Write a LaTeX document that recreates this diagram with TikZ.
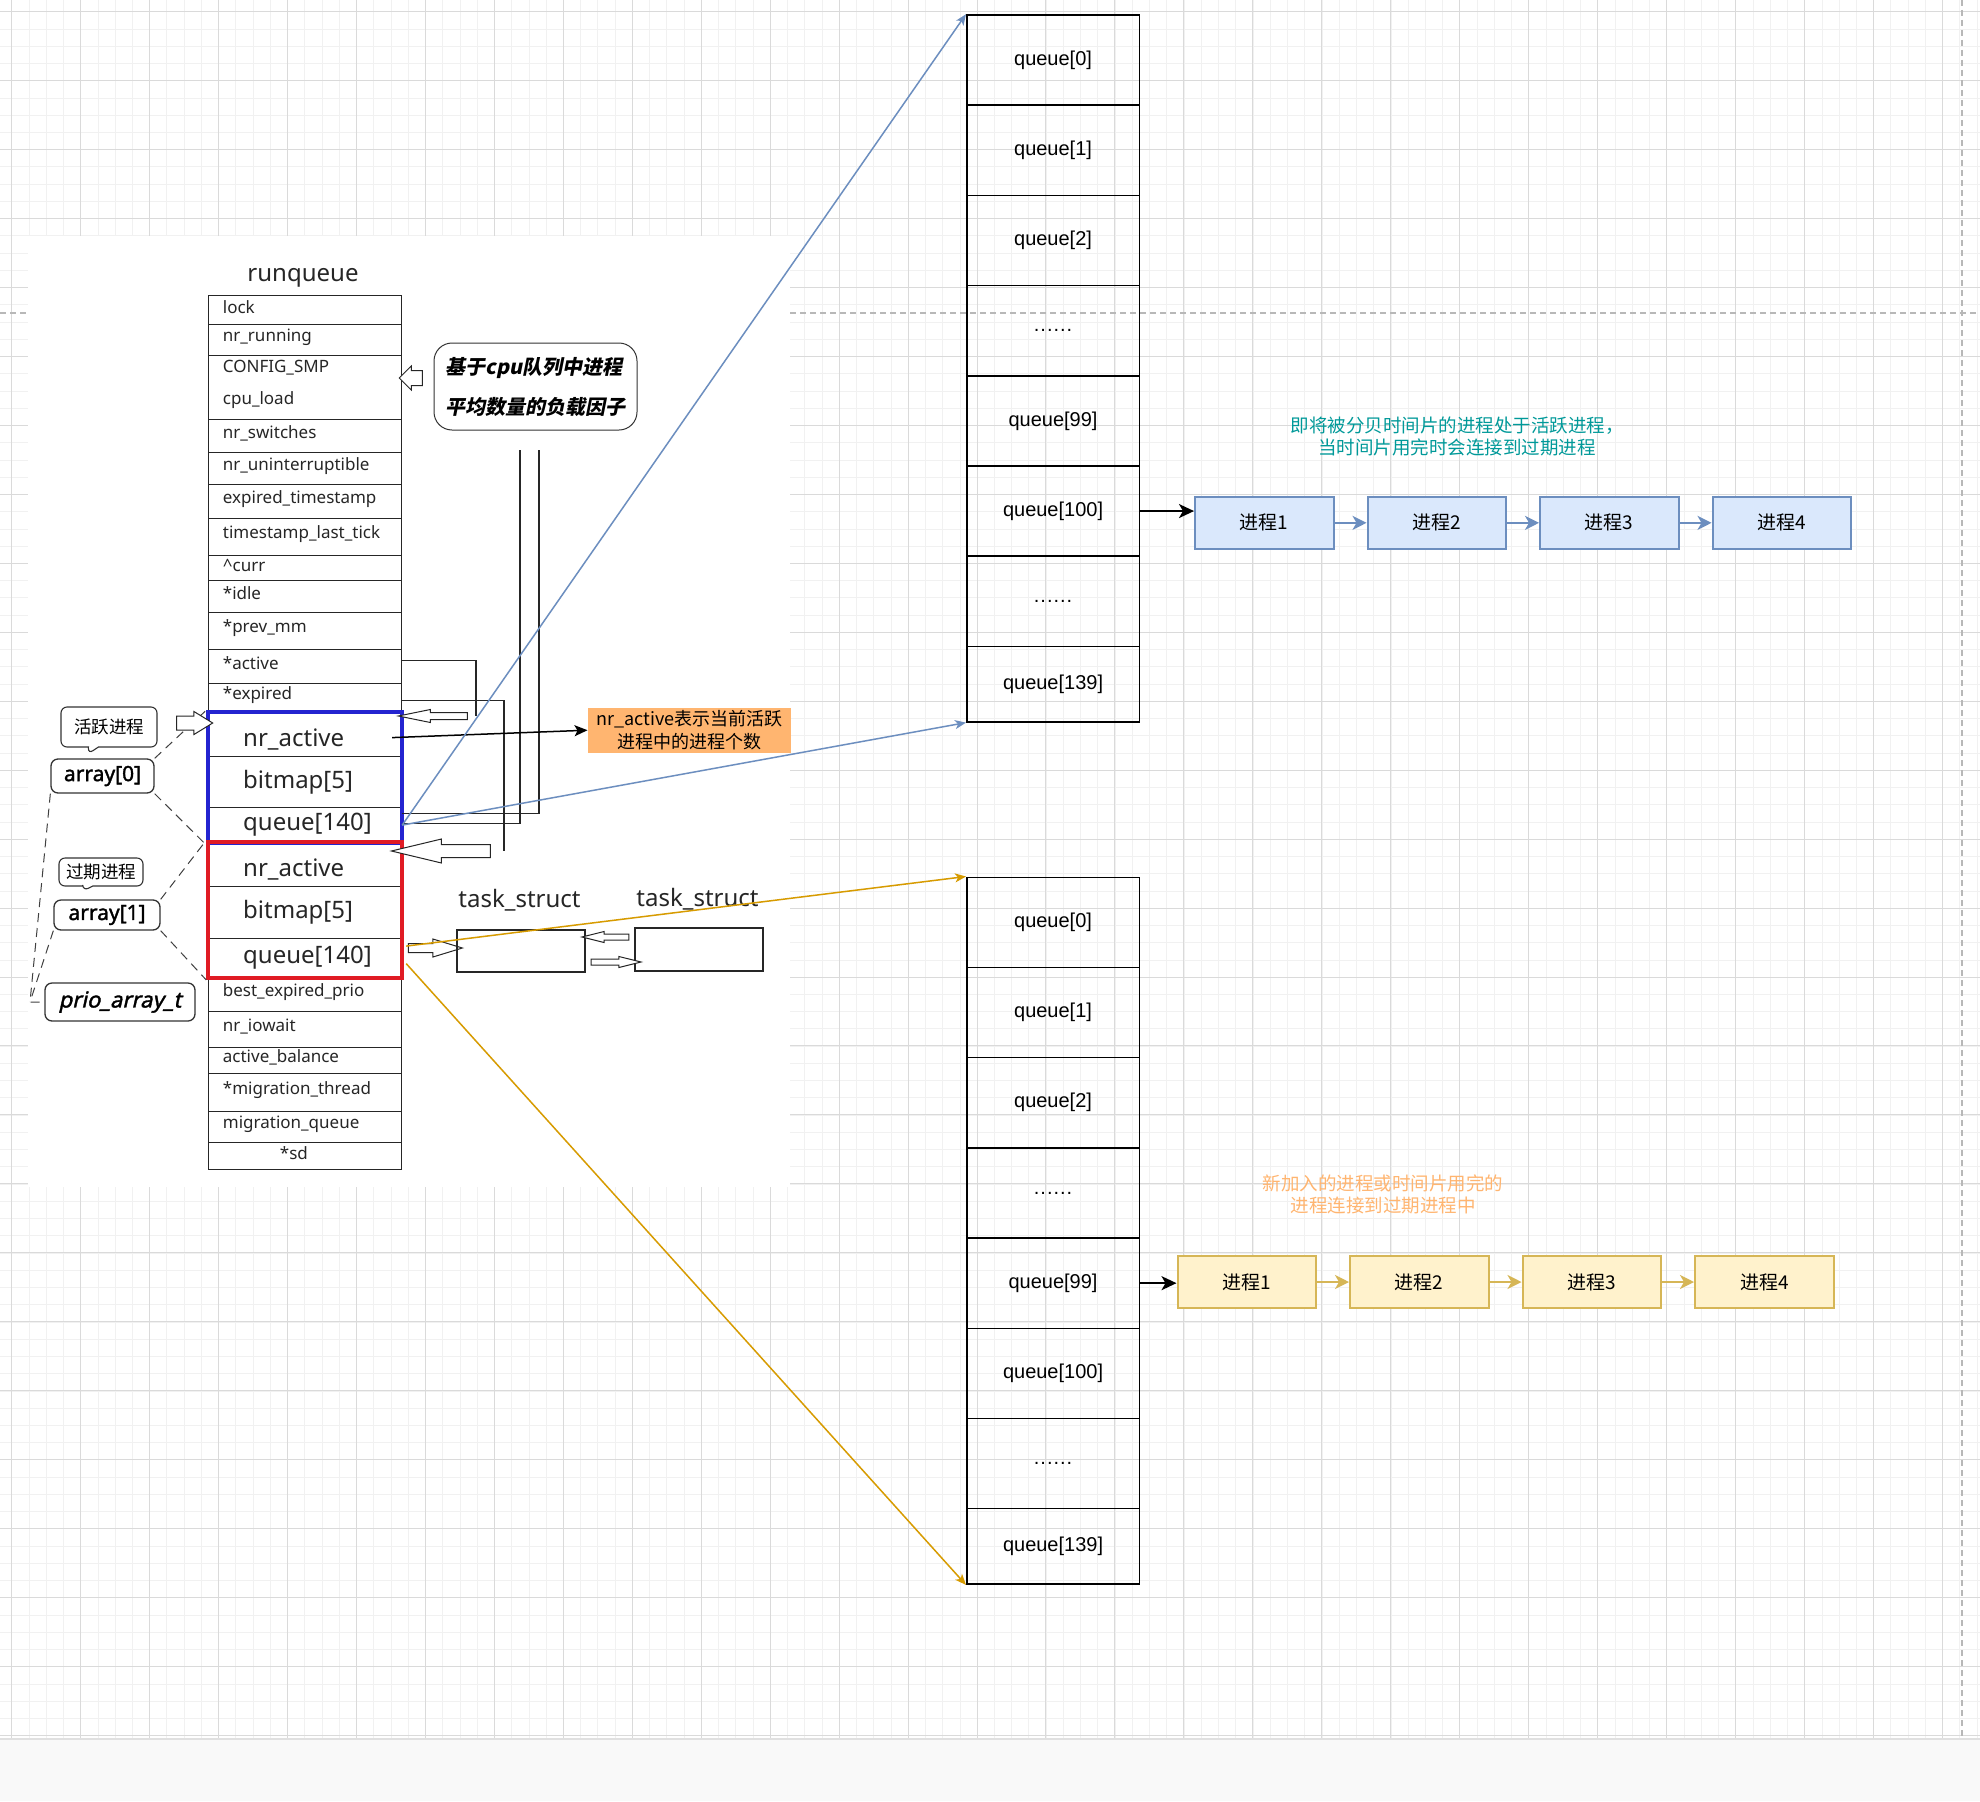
\documentclass[tikz,border=0pt]{standalone}
\usepackage{fontspec}
\setmainfont{Noto Sans}
\newfontfamily\tagfont[FakeBold=1.6]{Noto Sans}
\newfontfamily\tagslant[FakeBold=1.6, FakeSlant=0.22]{Noto Sans}
\newfontfamily\cjk{Noto Sans CJK SC}
\newfontfamily\cjkslant[FakeSlant=0.2]{Noto Sans CJK SC}
\newfontfamily\drawiofont{Liberation Sans}
\usetikzlibrary{arrows.meta,positioning,calc,fit,shapes.arrows,shapes.callouts}

\definecolor{gridminor}{HTML}{F1F1F1}
\definecolor{gridmajor}{HTML}{DADADA}
\definecolor{bandgrey}{HTML}{F9F9F9}
\definecolor{linkblue}{HTML}{6C8EBF}
\definecolor{linkorange}{HTML}{D79B00}
\definecolor{activefill}{HTML}{DAE8FC}
\definecolor{expiredfill}{HTML}{FFF2CC}
\definecolor{expiredline}{HTML}{D6B656}
\definecolor{noteorange}{HTML}{FFB570}
\definecolor{noteteal}{HTML}{009999}
\definecolor{boxblue}{HTML}{2424D0}
\definecolor{boxred}{HTML}{E01B24}
\newcommand\slotdots{.\kern1pt.\kern1pt.\kern1pt.\kern1pt.\kern1pt.}

\begin{document}
\begin{tikzpicture}[x=1pt, y=-1pt,
    minorline/.style={draw=gridminor, line width=0.8pt},
    majorline/.style={draw=gridmajor, line width=1pt},
    pageline/.style={draw=black!28, line width=1.1pt, dash pattern=on 6pt off 4pt},
    field/.style={draw=black!85, line width=1.2pt, anchor=north west, minimum width=193pt, inner sep=0pt},
    fieldtext/.style={anchor=west, align=left, inner sep=0pt, text=black!85, font=\fontsize{17}{24}\selectfont},
    bigtext/.style={anchor=west, inner sep=0pt, text=black!85, font=\fontsize{24}{28}\selectfont},
    tag/.style={draw=black!80, line width=1.3pt, rounded corners=7pt, inner sep=0pt, font=\tagfont\fontsize{21}{24}\selectfont},
    bubble/.style={rectangle callout, draw=black!80, line width=1.1pt, rounded corners=6pt, inner sep=0pt, callout pointer width=10pt, font=\cjk\fontsize{17.5}{20}\selectfont},
    hollow/.style={single arrow, draw=black!85, fill=white, line width=1pt, inner xsep=0pt, single arrow head indent=0pt},
    wire/.style={draw=black!85, line width=1.2pt},
    dashlink/.style={draw=black!75, line width=1pt, dash pattern=on 9pt off 6pt},
    slot/.style={draw=black, line width=1.5pt, anchor=north west, minimum width=172.6pt, inner sep=0pt, font=\drawiofont\fontsize{20}{24}\selectfont},
    procA/.style={draw=linkblue, fill=activefill, line width=2pt, minimum width=138.5pt, minimum height=52.3pt, inner sep=0pt, font=\cjk\fontsize{19}{22}\selectfont},
    procB/.style={procA, draw=expiredline, fill=expiredfill},
    bluearr/.style={draw=linkblue, line width=1.5pt, -{Stealth[length=11pt, width=9pt, inset=3pt]}},
    orangearr/.style={bluearr, draw=linkorange},
    chainA/.style={draw=linkblue, line width=2pt, -{Stealth[length=14pt, width=14pt, inset=4pt]}},
    chainB/.style={chainA, draw=expiredline},
    headarr/.style={draw=black, line width=2pt, -{Stealth[length=15pt, width=14pt, inset=4pt]}},
    notearr/.style={draw=black, line width=1.5pt, -{Stealth[length=13pt, width=11pt, inset=3pt]}}
  ]
    \useasboundingbox (0,0) rectangle (1980,1801);
    \fill[white] (0,0) rectangle (1980,1801);

    % GRID
    \foreach \i in {-1,...,114} \draw[minorline] ({11.7+17.24*\i},0) -- ({11.7+17.24*\i},1739);
    \foreach \i in {-1,...,100} \draw[minorline] (0,{11.7+17.24*\i}) -- (1980,{11.7+17.24*\i});
    \foreach \i in {0,...,28} \draw[majorline] ({11.7+68.95*\i},0) -- ({11.7+68.95*\i},1739);
    \foreach \i in {0,...,25} \draw[majorline] (0,{11.7+68.95*\i}) -- (1980,{11.7+68.95*\i});
    \draw[pageline] (0,313) -- (1980,313);
    \draw[pageline] (1962,0) -- (1962,1739);
    \fill[bandgrey] (0,1739) rectangle (1980,1801);
    \draw[black!12, line width=2pt] (0,1739) -- (1980,1739);

    % SCANNED RUNQUEUE
    \fill[white] (28,236) rectangle (790,1187);
    \node[font=\fontsize{24}{28}\selectfont, text=black!85] (rqtitle) at (303,278) {runqueue};

    \foreach \nm/\ya/\yb/\txt in {
        lock/295/324/lock,
        nrrun/324/355/nr\_running,
        smp/355/419/{CONFIG\_SMP\\[8pt]cpu\_load},
        nrsw/419/452/nr\_switches,
        nrunint/452/484/nr\_uninterruptible,
        expts/484/518/expired\_timestamp,
        lasttick/518/555/timestamp\_last\_tick,
        curr/555/580/\textasciicircum curr,
        idle/580/612/*idle,
        prevmm/612/649/*prev\_mm,
        active/649/683/*active,
        expired/683/712/*expired,
        bestprio/977/1011/best\_expired\_prio,
        iowait/1011/1047/nr\_iowait,
        actbal/1047/1073/active\_balance,
        migthread/1073/1111/*migration\_thread,
        migqueue/1111/1142/migration\_queue,
        sd/1142/1169/\hspace*{57pt}*sd}
    {
      \node[field, minimum height={(\yb-\ya)*1pt}] (\nm) at (208,\ya) {};
      \node[fieldtext] at ([xshift=14.7pt, yshift=3pt]\nm.west) {\txt};
    }

    \foreach \nm/\ya/\yb/\dy/\txt in {
        bna/712/756/-5/nr\_active, bbm/756/807/0/bitmap[5], bq/807/842/0/queue[140],
        rna/842/886/-5/nr\_active, rbm/886/938/0/bitmap[5], rq/938/977/0/queue[140]}
    {
      \node[field, minimum height={(\yb-\ya)*1pt}] (\nm) at (208,\ya) {};
      \node[bigtext] at ([xshift=35pt, yshift=\dy pt]\nm.west) {\txt};
    }
    \node[fit=(bna)(bq), draw=boxblue, line width=3.5pt, inner sep=0pt] (actv) {};
    \node[fit=(rna)(rq), draw=boxred, line width=3.5pt, inner sep=0pt] (expd) {};

    % left labels
    \node[bubble, minimum width=96pt, minimum height=40pt, callout absolute pointer={(88,754)}] (cact) at (109,727) {活跃进程};
    \node[tag, minimum width=103pt, minimum height=34pt] (a0) at (102.5,776) {array[0]};
    \node[bubble, minimum width=84pt, minimum height=28pt, callout absolute pointer={(83,891)}] (cexp) at (101,872) {过期进程};
    \node[tag, minimum width=106pt, minimum height=30pt] (a1) at (107,915) {array[1]};
    \node[tag, font=\tagslant\fontsize{22}{24}\selectfont, minimum width=150pt, minimum height=38pt] (pa) at (120,1002) {prio\_array\_t};
    \coordinate (bend) at (30,1002);

    \draw[dashlink] (a0.north east) -- (actv.north west);
    \draw[dashlink] (a0.south east) -- (actv.south west);
    \draw[dashlink] (a1.north east) -- (expd.north west);
    \draw[dashlink] (a1.south east) -- (expd.south west);
    \draw[dashlink] (a0.south west) -- (bend) -- (pa.west);
    \draw[dashlink] (a1.south west) -- (bend);

    % load factor note
    \node[draw=black!80, line width=1pt, rounded corners=18pt, minimum width=203pt, minimum height=87pt, align=left,
          font=\cjkslant\bfseries\fontsize{20}{40}\selectfont] (cload) at (535.5,386.5) {基于cpu队列中进程\\平均数量的负载因子};

    % pointers
    \coordinate (upA) at (539,450);
    \coordinate (upB) at (520,450);
    \draw[wire] ([yshift=6pt]active.east) -| (476,716);
    \draw[wire] ([yshift=-2pt]expired.east) -| (504,851);
    \draw[wire] ([yshift=11.5pt]bq.east) -| (upA);
    \draw[wire] ([yshift=1.5pt]bq.east) -| (upB);

    \node[hollow, minimum height=36pt, inner ysep=6.5pt, single arrow head extend=4.5pt, single arrow tip angle=63] (ha1) at (189,723) {};
    \node[hollow, minimum height=23pt, inner ysep=7pt, single arrow head extend=4.5pt, single arrow tip angle=90, shape border rotate=180] (ha2) at (414.5,378) {};
    \node[hollow, minimum height=69pt, inner ysep=3pt, single arrow head extend=3pt, single arrow tip angle=23, shape border rotate=180] (ha3) at (441.5,716) {};
    \node[hollow, minimum height=99pt, inner ysep=6pt, single arrow head extend=5.5pt, single arrow tip angle=27, shape border rotate=180] (ha4) at (454.5,851) {};
    \node[hollow, minimum height=54pt, inner ysep=4pt, single arrow head extend=4.5pt, single arrow tip angle=34] (ha5) at (428,948) {};

    % task_struct list
    \node[font=\fontsize{24}{28}\selectfont, text=black!85] (tl1) at (519.5,900) {task\_struct};
    \node[font=\fontsize{24}{28}\selectfont, text=black!85] (tl2) at (697.5,899) {task\_struct};
    \node[draw=black!85, line width=1.2pt, minimum width=128pt, minimum height=42pt, inner sep=0pt] (ts1) at (521,951) {};
    \node[draw=black!85, line width=1.2pt, minimum width=128pt, minimum height=43pt, inner sep=0pt] (ts2) at (699,949.5) {};
    \node[hollow, minimum height=47pt, inner ysep=2.5pt, single arrow head extend=2.5pt, single arrow tip angle=28, shape border rotate=180] (ha6) at (611.5,937) {};
    \node[hollow, minimum height=50pt, inner ysep=2.5pt, single arrow head extend=2.5pt, single arrow tip angle=28] (ha7) at (610,962) {};

    % nr_active note
    \node[fill=noteorange, minimum width=203.3pt, minimum height=45pt, inner sep=0pt, align=center,
          font=\cjk\fontsize{18}{23}\selectfont] (note) at (689.4,730.2) {nr\_active表示当前活跃\\进程中的进程个数};
    \draw[notearr] ([xshift=-10pt, yshift=-3pt]bna.east) -- (note.west);

    % ACTIVE QUEUE ARRAY
    \foreach \i/\txt/\h in {0/queue[0]/90.2, 1/queue[1]/90.2, 2/queue[2]/90.2, 3/\slotdots/90.2,
                            4/queue[99]/90.2, 5/queue[100]/90.2, 6/\slotdots/90.2, 7/queue[139]/75.5}
    {
      \node[slot, minimum height=\h*1pt] (qa\i) at (966,{14.2+90.2*\i}) {\txt};
      \node[slot, minimum height=\h*1pt] (qb\i) at (966,{876.5+90.2*\i}) {\txt};
    }

    \draw[bluearr] (bq.east) -- (qa0.north west);
    \draw[bluearr] (bq.east) -- (qa7.south west);
    \draw[orangearr] ([xshift=4pt, yshift=12pt]rq.east) -- (qb0.north west);
    \draw[orangearr] ([xshift=4pt, yshift=-5.5pt]rq.east) -- (qb7.south west);

    % PROCESS CHAINS
    \foreach \i in {1,...,4} {
      \node[procA] (ta\i) at ({1264.25+172.5*(\i-1)},522.85) {进程\i};
      \node[procB] (tb\i) at ({1246.75+172.5*(\i-1)},1282) {进程\i};
    }
    \foreach \i/\j in {1/2,2/3,3/4} {
      \draw[chainA] (ta\i) -- (ta\j);
      \draw[chainB] (tb\i) -- (tb\j);
    }
    \draw[headarr] (qa5.east) -- (qa5.east -| ta1.west);
    \draw[headarr] (qb4.east) -- (qb4.east -| tb1.west);

    \node[text=noteteal, align=center, font=\cjk\fontsize{18.5}{22}\selectfont] (hintA) at (1457,436)
        {即将被分贝时间片的进程处于活跃进程，\\当时间片用完时会连接到过期进程};
    \node[text=noteorange, align=center, font=\cjk\fontsize{18.5}{22}\selectfont] (hintB) at (1383,1194)
        {新加入的进程或时间片用完的\\进程连接到过期进程中};
\end{tikzpicture}
\end{document}
